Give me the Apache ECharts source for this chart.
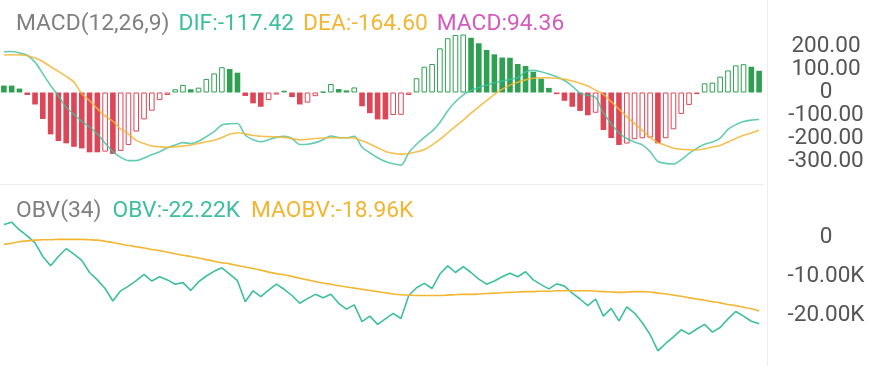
<!DOCTYPE html>
<html><head><meta charset="utf-8">
<script src="https://cdn.jsdelivr.net/npm/echarts@6/dist/echarts.min.js"></script>
<style>html,body{margin:0;padding:0;background:#fff}#c{width:886px;height:366px}</style>
</head><body><div id="c"></div>
<script>
// ---- data ----
const macdTickLabels = [200, 100, 0, -100, -200, -300];
const obvTickLabels = [0, -10, -20]; // in K

const macdValues = [
  30, 30, 17, -11, -52, -115, -182, -211, -221, -236,
  -243, -260, -260, -257, -267, -254, -228, -170, -117, -79,
  -33, -11, 14, 33, 14, 21, 59, 83, 110, 102,
  86, -15, -47, -62, -33, -9, 8, -20, -52, -44,
  -16, 3, 37, 15, 9, 22, -60, -90, -117, -117,
  -98, -97, -11, 62, 112, 124, 192, 236, 250, 252,
  238, 214, 185, 166, 152, 151, 124, 115, 90, 60,
  20, -7, -36, -62, -80, -99, -88, -163, -198, -228,
  -222, -203, -199, -196, -221, -199, -160, -93, -54, -7,
  40, 43, 69, 96, 118, 123, 112, 94.36
];

const difValues = [
  177, 178, 172, 162, 132, 82, 30, -15, -65, -95,
  -125, -150, -180, -220, -257, -282, -296, -296, -285, -270,
  -258, -240, -228, -218, -222, -212, -192, -170, -141, -136,
  -135, -185, -205, -214, -205, -195, -190, -200, -226, -225,
  -218, -205, -189, -196, -197, -190, -238, -262, -284, -300,
  -310, -316, -262, -225, -195, -168, -130, -80, -40, -10,
  10, 22, 32, 42, 50, 57, 64, 90, 96, 90,
  80, 68, 52, 28, -3, -12, -22, -88, -135, -175,
  -200, -215, -228, -257, -300, -308, -311, -292, -265, -243,
  -225, -215, -198, -160, -140, -126, -120, -117.42
];

const deaValues = [
  163, 164, 163, 160, 150, 135, 112, 92, 70, 45,
  -5, -35, -70, -102, -125, -158, -180, -208, -222, -233,
  -236, -238, -236, -233, -228, -222, -214, -208, -196, -182,
  -175, -180, -187, -190, -192, -193, -195, -200, -206, -203,
  -200, -198, -197, -197, -197, -198, -210, -224, -240, -256,
  -264, -268, -266, -258, -248, -228, -204, -175, -147, -120,
  -90, -62, -35, -8, 14, 32, 45, 55, 62, 64,
  64, 62, 58, 50, 40, 28, 10, -8, -40, -72,
  -105, -135, -165, -195, -218, -230, -242, -247, -249, -250,
  -245, -237, -230, -215, -200, -186, -176, -164.60
];

const obvValues = [
  3.2, 3.8, 1.8, 0.3, -1.5, -5.0, -7.4, -5.0, -3.0, -4.4,
  -6.0, -9.1, -11.0, -13.2, -16.4, -13.8, -12.6, -11.2, -9.6, -11.3,
  -10.2, -11.0, -12.1, -11.7, -13.7, -11.5, -10.0, -8.8, -7.9, -9.5,
  -11.2, -16.6, -13.8, -15.3, -13.6, -12.1, -13.4, -15.0, -17.0, -15.8,
  -14.7, -15.6, -14.7, -17.0, -18.5, -17.4, -21.7, -20.3, -22.4, -21.0,
  -19.6, -20.9, -15.0, -13.0, -11.9, -13.2, -9.5, -7.4, -9.1, -7.6,
  -9.1, -10.8, -12.1, -11.3, -10.2, -9.3, -10.2, -8.9, -11.0, -12.2,
  -13.3, -12.0, -12.6, -14.4, -15.9, -17.6, -15.9, -20.3, -18.3, -21.5,
  -17.9, -19.5, -22.0, -25.0, -29.2, -27.3, -25.6, -23.8, -24.9, -23.6,
  -22.4, -24.4, -23.2, -21.0, -19.1, -20.3, -21.6, -22.22
];

const maobvValues = [
  -1.9, -1.6, -1.2, -1.0, -0.8, -0.7, -0.7, -0.6, -0.6, -0.6,
  -0.6, -0.7, -0.8, -1.1, -1.4, -1.8, -2.2, -2.5, -2.8, -3.2,
  -3.5, -3.9, -4.3, -4.7, -5.0, -5.4, -5.8, -6.2, -6.6, -6.9,
  -7.3, -7.7, -8.1, -8.5, -9.0, -9.4, -9.7, -10.1, -10.6, -11.0,
  -11.4, -11.8, -12.1, -12.5, -12.8, -13.1, -13.4, -13.7, -14.0, -14.3,
  -14.6, -14.8, -14.9, -15.0, -15.0, -15.0, -15.0, -14.9, -14.8, -14.7,
  -14.7, -14.6, -14.5, -14.4, -14.3, -14.2, -14.1, -14.0, -14.0, -13.9,
  -13.9, -13.8, -13.8, -13.8, -13.8, -13.8, -13.9, -14.0, -14.1, -14.2,
  -14.1, -14.0, -14.0, -14.1, -14.4, -14.6, -14.9, -15.2, -15.6, -15.9,
  -16.2, -16.6, -16.9, -17.3, -17.6, -18.0, -18.4, -18.96
];

const categories = macdValues.map((_, i) => String(i + 1));

// ---- styles ----
const C = {
  title: '#808080', dif: '#3dbf9f', dea: '#f2b632', macd: '#d45bbd',
  red: '#dd4656', green: '#2f9f52', axisText: '#555555', sep: '#eeeeee'
};
const FONT = 'Roboto, "Liberation Sans", Arial, sans-serif';

const last = a => a[a.length - 1];

const barData = macdValues.map((v, i) => {
  const hollow = i > 0 && v > macdValues[i - 1];
  const col = v >= 0 ? C.green : C.red;
  return {
    value: v,
    itemStyle: hollow
      ? { color: '#ffffff', borderColor: col, borderWidth: 1 }
      : { color: col, borderWidth: 0 }
  };
});

const chart = echarts.init(document.getElementById('c'), null, { renderer: 'canvas' });

const richBase = { fontSize: 22.8, fontFamily: FONT, fontWeight: 'normal' };
const gap = { width: 9 };
chart.setOption({
  animation: false,
  backgroundColor: '#ffffff',
  title: [
    {
      left: 11, top: 8,
      text: '{a|MACD(12,26,9)}{g|}{b|DIF:' + last(difValues).toFixed(2) + '}{g|}{c|DEA:' +
        last(deaValues).toFixed(2) + '}{g|}{d|MACD:' + last(macdValues).toFixed(2) + '}',
      textStyle: {
        fontWeight: 'normal', fontSize: 22.8,
        rich: {
          a: Object.assign({ color: C.title }, richBase),
          b: Object.assign({ color: C.dif }, richBase),
          c: Object.assign({ color: C.dea }, richBase),
          d: Object.assign({ color: C.macd }, richBase),
          g: gap
        }
      }
    },
    {
      left: 11, top: 195,
      text: '{a|OBV(34)}{g|}{b|OBV:' + last(obvValues).toFixed(2) + 'K}{g|}{c|MAOBV:' +
        last(maobvValues).toFixed(2) + 'K}',
      textStyle: {
        fontWeight: 'normal', fontSize: 22.8,
        rich: {
          a: Object.assign({ color: C.title }, richBase),
          b: Object.assign({ color: C.dif }, richBase),
          c: Object.assign({ color: C.dea }, richBase),
          g: { width: 11 }
        }
      }
    }
  ],
  grid: [
    { left: -3, right: 123, top: 23.5, height: 161 },
    { left: -3, right: 123, top: 198, height: 156 }
  ],
  xAxis: [
    {
      type: 'category', gridIndex: 0, data: categories, boundaryGap: true,
      axisLine: { show: true, onZero: false, lineStyle: { color: C.sep, width: 1 } },
      axisTick: { show: false }, axisLabel: { show: false }, splitLine: { show: false }
    },
    {
      type: 'category', gridIndex: 1, data: categories, boundaryGap: true,
      axisLine: { show: false }, axisTick: { show: false }, axisLabel: { show: false },
      splitLine: { show: false }
    }
  ],
  yAxis: [
    {
      type: 'value', gridIndex: 0, position: 'right', min: -400, max: 300, interval: 100,
      axisLine: { show: false }, axisTick: { show: false }, splitLine: { show: false },
      axisLabel: {
        show: true, align: 'center', verticalAlign: 'middle', padding: [10, 0, 0, 0],
        margin: 63, color: C.axisText, fontSize: 22.5, fontFamily: FONT,
        formatter: v => macdTickLabels.includes(v) ? (v === 0 ? '0' : v.toFixed(2)) : ''
      }
    },
    {
      type: 'value', gridIndex: 1, position: 'right', min: -30, max: 10, interval: 10,
      axisLine: { show: false }, axisTick: { show: false }, splitLine: { show: false },
      axisLabel: {
        show: true, align: 'center', verticalAlign: 'middle', padding: [8, 0, 0, 0],
        margin: 63, color: C.axisText, fontSize: 22.5, fontFamily: FONT,
        formatter: v => obvTickLabels.includes(v) ? (v === 0 ? '0' : v.toFixed(2) + 'K') : ''
      }
    }
  ],
  graphic: [
    { type: 'line', shape: { x1: 767.5, y1: 0, x2: 767.5, y2: 366 }, style: { stroke: C.sep, lineWidth: 1 }, z: 0 }
  ],
  series: [
    {
      name: 'MACD', type: 'bar', xAxisIndex: 0, yAxisIndex: 0, data: barData,
      barWidth: '72%', z: 2
    },
    {
      name: 'DIF', type: 'line', xAxisIndex: 0, yAxisIndex: 0, data: difValues,
      symbol: 'none', smooth: 0.3, lineStyle: { color: C.dif, width: 1.6, opacity: 0.8 }, z: 3
    },
    {
      name: 'DEA', type: 'line', xAxisIndex: 0, yAxisIndex: 0, data: deaValues,
      symbol: 'none', smooth: 0.3, lineStyle: { color: C.dea, width: 1.6, opacity: 0.85 }, z: 3
    },
    {
      name: 'OBV', type: 'line', xAxisIndex: 1, yAxisIndex: 1, data: obvValues,
      symbol: 'none', lineStyle: { color: C.dif, width: 1.6 }, z: 3
    },
    {
      name: 'MAOBV', type: 'line', xAxisIndex: 1, yAxisIndex: 1, data: maobvValues,
      symbol: 'none', smooth: 0.3, lineStyle: { color: C.dea, width: 1.6 }, z: 3
    }
  ]
});
</script>
</body></html>
